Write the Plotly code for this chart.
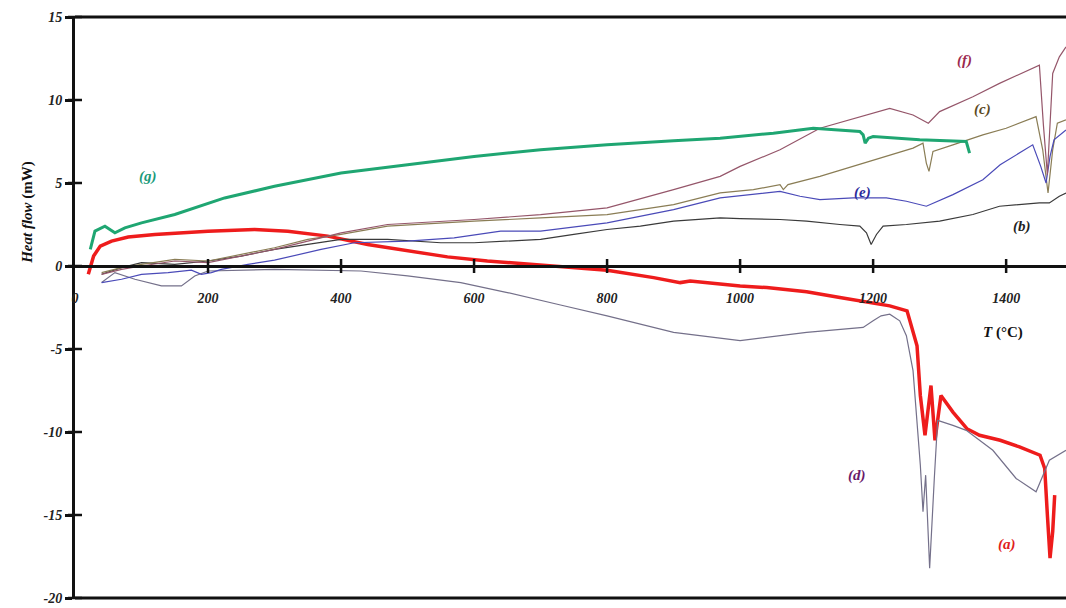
import plotly.graph_objects as go

# DSC heat-flow traces, temperature in °C, heat flow in mW
t_a = [20, 28, 38, 55, 80, 120, 200, 270, 320, 380, 440, 500, 560, 620, 700, 800, 870, 910, 925, 1000, 1040, 1100, 1150, 1225, 1251, 1258, 1266, 1271, 1278, 1287, 1293, 1302, 1320, 1341, 1360, 1391, 1420, 1451, 1458, 1462, 1466, 1470, 1473]
h_a = [-0.5, 0.6, 1.2, 1.5, 1.75, 1.9, 2.1, 2.2, 2.1, 1.8, 1.3, 0.9, 0.55, 0.3, 0.05, -0.25, -0.7, -1.0, -0.9, -1.2, -1.3, -1.55, -1.9, -2.4, -2.7, -3.7, -4.8, -7.8, -10.2, -7.2, -10.5, -7.8, -8.8, -9.8, -10.2, -10.5, -10.9, -11.4, -12.2, -15.0, -17.6, -16.0, -13.8]

t_b = [40, 70, 100, 150, 200, 250, 300, 350, 400, 470, 550, 600, 650, 700, 750, 800, 850, 900, 970, 1000, 1060, 1100, 1150, 1180, 1190, 1197, 1205, 1215, 1250, 1300, 1350, 1390, 1450, 1465, 1480, 1490]
h_b = [-0.5, -0.1, 0.2, 0.1, 0.3, 0.6, 1.0, 1.3, 1.6, 1.6, 1.4, 1.4, 1.5, 1.6, 1.9, 2.2, 2.4, 2.7, 2.9, 2.85, 2.8, 2.7, 2.5, 2.4, 2.0, 1.3, 1.9, 2.4, 2.5, 2.7, 3.1, 3.6, 3.8, 3.8, 4.2, 4.4]

t_c = [40, 70, 100, 150, 200, 250, 300, 350, 400, 470, 550, 600, 700, 800, 900, 970, 1020, 1060, 1065, 1072, 1120, 1170, 1220, 1260, 1275, 1280, 1284, 1290, 1320, 1365, 1400, 1445, 1455, 1463, 1470, 1477, 1490]
h_c = [-0.4, -0.1, 0.1, 0.4, 0.3, 0.7, 1.1, 1.6, 1.9, 2.4, 2.6, 2.7, 2.9, 3.1, 3.7, 4.4, 4.6, 4.9, 4.6, 4.9, 5.4, 6.0, 6.6, 7.1, 7.4, 6.2, 5.7, 6.9, 7.3, 7.9, 8.3, 9.0, 7.0, 4.4, 7.0, 8.6, 8.8]

t_d = [40, 60, 90, 130, 160, 180, 200, 300, 430, 500, 580, 650, 730, 800, 900, 1000, 1100, 1150, 1185, 1200, 1212, 1225, 1240, 1250, 1260, 1271, 1275, 1279, 1285, 1292, 1297, 1320, 1340, 1380, 1415, 1445, 1465, 1490]
h_d = [-1.0, -0.4, -0.8, -1.2, -1.2, -0.6, -0.3, -0.2, -0.3, -0.6, -1.0, -1.6, -2.35, -3.0, -4.0, -4.5, -4.0, -3.8, -3.7, -3.3, -3.0, -2.9, -3.3, -4.2, -6.3, -12.0, -14.8, -12.6, -18.2, -12.8, -9.3, -9.6, -9.9, -11.1, -12.8, -13.6, -11.7, -11.1]

t_e = [40, 70, 100, 140, 175, 190, 205, 220, 260, 300, 370, 420, 500, 570, 640, 700, 800, 900, 970, 1020, 1060, 1090, 1120, 1170, 1220, 1250, 1280, 1320, 1365, 1391, 1440, 1452, 1460, 1466, 1472, 1490]
h_e = [-1.0, -0.8, -0.5, -0.4, -0.25, -0.5, -0.4, -0.2, 0.1, 0.35, 1.0, 1.4, 1.5, 1.7, 2.1, 2.1, 2.6, 3.4, 4.1, 4.3, 4.5, 4.2, 4.0, 4.1, 4.1, 3.9, 3.6, 4.3, 5.2, 6.1, 7.3, 6.0, 5.0, 6.6, 7.6, 8.2]

t_f = [40, 70, 100, 150, 200, 250, 300, 350, 400, 470, 550, 600, 700, 800, 900, 970, 1000, 1060, 1120, 1180, 1225, 1260, 1283, 1300, 1350, 1390, 1450, 1456, 1462, 1470, 1480, 1490]
h_f = [-0.5, -0.2, 0.0, 0.3, 0.2, 0.6, 1.0, 1.5, 2.0, 2.5, 2.7, 2.8, 3.1, 3.5, 4.6, 5.4, 6.0, 7.0, 8.3, 9.0, 9.5, 9.1, 8.6, 9.3, 10.2, 11.0, 12.1, 8.5, 5.5, 11.6, 12.6, 13.2]

t_g = [23, 30, 45, 60, 75, 100, 150, 225, 300, 400, 500, 600, 700, 800, 900, 970, 1050, 1110, 1180, 1185, 1188, 1193, 1200, 1270, 1340, 1343, 1345]
h_g = [1.0, 2.1, 2.4, 2.0, 2.3, 2.6, 3.1, 4.1, 4.8, 5.6, 6.1, 6.6, 7.0, 7.3, 7.55, 7.7, 8.0, 8.3, 8.1, 7.9, 7.4, 7.7, 7.8, 7.6, 7.5, 7.1, 6.8]

series = [
    ("(a)", t_a, h_a, "#ee1c1c", 3.5),
    ("(b)", t_b, h_b, "#3a3a3a", 1.2),
    ("(c)", t_c, h_c, "#8a7d55", 1.2),
    ("(d)", t_d, h_d, "#74708a", 1.2),
    ("(e)", t_e, h_e, "#4a4ab8", 1.2),
    ("(f)", t_f, h_f, "#95566a", 1.2),
    ("(g)", t_g, h_g, "#1fa672", 3.0),
]

# curve tags: text, temperature, heat flow, colour
tags = [
    ("(a)", 1401, -16.8, "#e02020"),
    ("(b)", 1424, 2.4, "#222222"),
    ("(c)", 1365, 9.4, "#5c4a1e"),
    ("(d)", 1176, -12.6, "#6a1a6a"),
    ("(e)", 1184, 4.4, "#2a2a9a"),
    ("(f)", 1338, 12.35, "#9b2a4e"),
    ("(g)", 110, 5.4, "#1a9a7a"),
]

x_ticks = [0, 200, 400, 600, 800, 1000, 1200, 1400]
y_ticks = [-20, -15, -10, -5, 0, 5, 10, 15]
x_min, x_max = 0, 1490
y_min, y_max = -20, 15

SERIF = "Liberation Serif"

fig = go.Figure()

for name, t, h, color, width in series:
    fig.add_trace(go.Scatter(x=t, y=h, mode="lines", name=name,
                             line=dict(color=color, width=width),
                             showlegend=False, hoverinfo="skip"))

# tick marks crossing the temperature axis (drawn on the zero line)
fig.add_trace(go.Scatter(x=x_ticks[1:], y=[0] * (len(x_ticks) - 1), mode="markers",
                         marker=dict(symbol="line-ns", size=10,
                                     line=dict(color="#111", width=2.5)),
                         showlegend=False, hoverinfo="skip", cliponaxis=False))
# right-hand halves of the heat-flow ticks
fig.add_trace(go.Scatter(x=[0] * len(y_ticks), y=y_ticks, mode="markers",
                         marker=dict(symbol="line-ew", size=10,
                                     line=dict(color="#111", width=2.5)),
                         showlegend=False, hoverinfo="skip", cliponaxis=False))

for text, tx, ty, color in tags:
    fig.add_annotation(x=tx, y=ty, text=f"<b><i>{text}</i></b>", showarrow=False,
                       font=dict(family=SERIF, size=15, color=color))

fig.add_annotation(x=1396, y=-4.0, text="<b><i>T</i> (°C)</b>", showarrow=False,
                   font=dict(family=SERIF, size=15, color="#111"))

fig.add_annotation(xref="paper", yref="paper", x=-0.058, y=0.663,
                   text="<b><i>Heat flow</i> (mW)</b>", textangle=-90,
                   showarrow=False, font=dict(family=SERIF, size=15, color="#111"))

# top and bottom frame lines
fig.add_shape(type="line", xref="paper", yref="paper", x0=0, x1=1, y0=1, y1=1,
              line=dict(color="#111", width=3))
fig.add_shape(type="line", xref="paper", yref="paper", x0=0, x1=1, y0=0, y1=0,
              line=dict(color="#111", width=3))

tick_font = dict(family=SERIF, size=14, color="#222")

fig.update_layout(
    width=1066, height=608,
    margin=dict(l=75, r=0, t=17, b=10),
    paper_bgcolor="white", plot_bgcolor="white",
    xaxis=dict(range=[x_min, x_max], tickvals=x_ticks,
               ticktext=[f"<b><i>{v}</i></b>" for v in x_ticks],
               anchor="free", position=(0 - y_min) / (y_max - y_min),
               showline=True, linecolor="#111", linewidth=3,
               ticks="", ticklabelstandoff=18, showgrid=False, zeroline=False,
               tickfont=tick_font),
    yaxis=dict(range=[y_min, y_max], tickvals=y_ticks,
               ticktext=[f"<b><i>{v}</i></b>" for v in y_ticks],
               showline=True, linecolor="#111", linewidth=3,
               ticks="outside", ticklen=7, tickwidth=2.5, tickcolor="#111",
               showgrid=False, zeroline=False, tickfont=tick_font),
)

fig.write_html("out.html")
